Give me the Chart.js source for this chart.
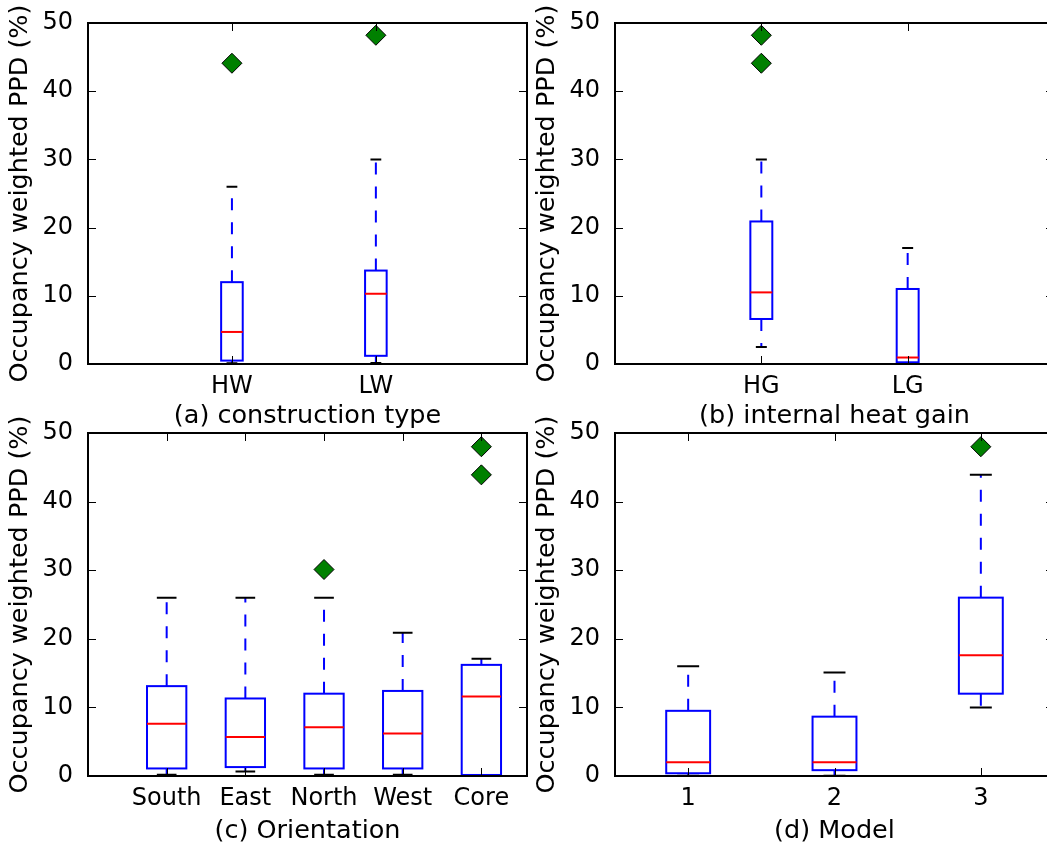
<!DOCTYPE html>
<html>
<head>
<meta charset="utf-8">
<script src="https://cdn.jsdelivr.net/npm/chart.js@4"></script>
<style>
  html, body { margin: 0; padding: 0; background: #fff; overflow: hidden; }
  body { width: 1047px; height: 842px; position: relative; }
  canvas { position: absolute; }
</style>
</head>
<body>
<canvas id="panelA" width="538" height="432" style="left:0px;top:0px"></canvas>
<canvas id="panelB" width="540" height="432" style="left:527px;top:0px"></canvas>
<canvas id="panelC" width="538" height="437" style="left:0px;top:410px"></canvas>
<canvas id="panelD" width="540" height="437" style="left:527px;top:410px"></canvas>
<script>
// each box: [lower whisker, q1, median, q3, upper whisker]
const yTicks = [0, 10, 20, 30, 40, 50];

const constructionLabels = ['HW', 'LW'];
const constructionBoxes = [
    [0.1, 0.5, 4.7, 12.0, 26.0],
    [0.15, 1.2, 10.3, 13.7, 30.0]
];
const constructionFliers = [[44.1], [48.2]];

const heatGainLabels = ['HG', 'LG'];
const heatGainBoxes = [
    [2.5, 6.6, 10.5, 20.9, 30.0],
    [0.1, 0.25, 0.95, 11.0, 17.0]
];
const heatGainFliers = [[48.2, 44.1], []];

const orientationLabels = ['South', 'East', 'North', 'West', 'Core'];
const orientationBoxes = [
    [0.2, 1.1, 7.6, 13.1, 26.0],
    [0.65, 1.3, 5.7, 11.3, 26.0],
    [0.2, 1.1, 7.1, 12.0, 26.0],
    [0.2, 1.1, 6.2, 12.4, 20.9],
    [0.05, 0.15, 11.6, 16.2, 17.1]
];
const orientationFliers = [[], [], [30.1], [], [48.0, 43.9]];

const modelLabels = ['1', '2', '3'];
const modelBoxes = [
    [0.05, 0.4, 2.0, 9.5, 16.0],
    [0.05, 0.85, 2.0, 8.65, 15.1],
    [10.0, 12.0, 17.6, 26.0, 43.9]
];
const modelFliers = [[], [], [48.0]];

Chart.defaults.font.family = "'DejaVu Sans', sans-serif";
Chart.defaults.font.size = 24;
Chart.defaults.color = '#000';

// draws whiskers, caps, boxes and medians (matplotlib boxplot look)
const boxPlugin = {
    id: 'boxplot',
    beforeDatasetsDraw(chart, args, opts) {
        const ctx = chart.ctx;
        const x = chart.scales.x;
        const y = chart.scales.y;
        ctx.save();
        ctx.lineCap = 'butt';
        opts.boxes.forEach((b, i) => {
            const pos = i + 1;
            const xc = x.getPixelForValue(pos);
            const x0 = x.getPixelForValue(pos - opts.width / 2);
            const x1 = x.getPixelForValue(pos + opts.width / 2);
            const c0 = x.getPixelForValue(pos - opts.width / 4);
            const c1 = x.getPixelForValue(pos + opts.width / 4);
            const [lo, q1, med, q3, hi] = b.map(v => y.getPixelForValue(v));

            // whiskers
            ctx.strokeStyle = '#0000ff';
            ctx.lineWidth = 2;
            ctx.setLineDash([12, 12]);
            ctx.beginPath();
            ctx.moveTo(xc, q3);
            ctx.lineTo(xc, hi);
            ctx.moveTo(xc, q1);
            ctx.lineTo(xc, lo);
            ctx.stroke();
            ctx.setLineDash([]);

            // caps
            ctx.strokeStyle = '#000';
            ctx.beginPath();
            ctx.moveTo(c0, hi);
            ctx.lineTo(c1, hi);
            ctx.moveTo(c0, lo);
            ctx.lineTo(c1, lo);
            ctx.stroke();

            // box
            ctx.strokeStyle = '#0000ff';
            ctx.strokeRect(x0, q3, x1 - x0, q1 - q3);

            // median
            ctx.strokeStyle = '#ff0000';
            ctx.beginPath();
            ctx.moveTo(x0, med);
            ctx.lineTo(x1, med);
            ctx.stroke();
        });
        ctx.restore();
    },
    afterDraw(chart) {
        const ctx = chart.ctx;
        const {left, right, top, bottom} = chart.chartArea;
        const x = chart.scales.x;
        const y = chart.scales.y;
        ctx.save();
        ctx.strokeStyle = '#000';
        ctx.lineWidth = 1;
        ctx.beginPath();
        y.ticks.forEach(t => {
            const py = Math.round(y.getPixelForValue(t.value)) + 0.5;
            ctx.moveTo(left, py);
            ctx.lineTo(left + 8, py);
            ctx.moveTo(right, py);
            ctx.lineTo(right - 8, py);
        });
        x.ticks.forEach(t => {
            const px = Math.round(x.getPixelForValue(t.value)) + 0.5;
            ctx.moveTo(px, bottom);
            ctx.lineTo(px, bottom - 8);
            ctx.moveTo(px, top);
            ctx.lineTo(px, top + 8);
        });
        ctx.stroke();
        ctx.lineWidth = 2;
        ctx.strokeRect(left, top, right - left, bottom - top);
        ctx.restore();
    }
};

function makePanel(id, labels, boxes, fliers, xMin, xMax, boxWidth, xTitle, padRight, xHeight) {
    const positions = labels.map((l, i) => i + 1);
    const points = [];
    fliers.forEach((list, i) => {
        list.forEach(v => points.push({x: positions[i], y: v}));
    });

    return new Chart(document.getElementById(id), {
        type: 'scatter',
        data: {
            datasets: [{
                data: points,
                pointStyle: 'rectRot',
                pointRadius: 10,
                backgroundColor: '#008000',
                borderColor: '#000',
                borderWidth: 1
            }]
        },
        options: {
            responsive: false,
            animation: false,
            layout: { padding: { top: 23, right: padRight, left: 0, bottom: 0 } },
            plugins: {
                legend: { display: false },
                tooltip: { enabled: false },
                boxplot: { boxes: boxes, width: boxWidth }
            },
            scales: {
                x: {
                    type: 'linear',
                    min: xMin,
                    max: xMax,
                    grid: { display: false },
                    border: { display: false },
                    afterBuildTicks: scale => {
                        scale.ticks = positions.map(v => ({value: v}));
                    },
                    afterFit: scale => {
                        scale.height = xHeight;
                    },
                    ticks: {
                        autoSkip: false,
                        maxRotation: 0,
                        padding: 0,
                        callback: (value, index) => labels[index]
                    },
                    title: {
                        display: true,
                        text: xTitle,
                        font: { size: 25.5 },
                        padding: { top: 0, bottom: 0 }
                    }
                },
                y: {
                    min: 0,
                    max: 50,
                    grid: { display: false },
                    border: { display: false },
                    afterBuildTicks: scale => {
                        scale.ticks = yTicks.map(v => ({value: v}));
                    },
                    afterFit: scale => {
                        scale.width = 88;
                    },
                    ticks: { padding: 7 },
                    title: {
                        display: true,
                        text: 'Occupancy weighted PPD (%)',
                        font: { size: 25.5 },
                        padding: { top: 5, bottom: 0 }
                    }
                }
            }
        },
        plugins: [boxPlugin]
    });
}

makePanel('panelA', constructionLabels, constructionBoxes, constructionFliers, 0, 3.05, 0.15, '(a) construction type', 3, 68);
makePanel('panelB', heatGainLabels, heatGainBoxes, heatGainFliers, 0, 3.0, 0.15, '(b) internal heat gain', 13, 68);
makePanel('panelC', orientationLabels, orientationBoxes, orientationFliers, 0, 5.58, 0.5, '(c) Orientation', 3, 71);
makePanel('panelD', modelLabels, modelBoxes, modelFliers, 0.5, 3.5, 0.3, '(d) Model', 13, 71);
</script>
</body>
</html>
